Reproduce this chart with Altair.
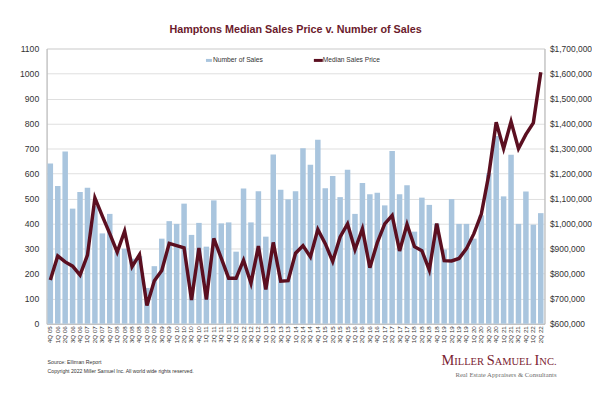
import altair as alt
import pandas as pd

quarters = [
    "4Q 05",
    "1Q 06", "2Q 06", "3Q 06", "4Q 06",
    "1Q 07", "2Q 07", "3Q 07", "4Q 07",
    "1Q 08", "2Q 08", "3Q 08", "4Q 08",
    "1Q 09", "2Q 09", "3Q 09", "4Q 09",
    "1Q 10", "2Q 10", "3Q 10", "4Q 10",
    "1Q 11", "2Q 11", "3Q 11", "4Q 11",
    "1Q 12", "2Q 12", "3Q 12", "4Q 12",
    "1Q 13", "2Q 13", "3Q 13", "4Q 13",
    "1Q 14", "2Q 14", "3Q 14", "4Q 14",
    "1Q 15", "2Q 15", "3Q 15", "4Q 15",
    "1Q 16", "2Q 16", "3Q 16", "4Q 16",
    "1Q 17", "2Q 17", "3Q 17", "4Q 17",
    "1Q 18", "2Q 18", "3Q 18", "4Q 18",
    "1Q 19", "2Q 19", "3Q 19", "4Q 19",
    "1Q 20", "2Q 20", "3Q 20", "4Q 20",
    "1Q 21", "2Q 21", "3Q 21", "4Q 21",
    "1Q 22", "2Q 22",
]

sales = [640, 550, 688, 460, 527, 543, 470, 361, 439, 290,
         300, 260, 270, 143, 230, 340, 410, 399, 480, 355,
         403, 308, 493, 401, 405, 288, 540, 405, 530, 348,
         676, 535, 497, 530, 701, 635, 735, 541, 590, 506,
         615, 439, 562, 518, 524, 473, 690, 518, 553, 368,
         504, 475, 400, 297, 498, 399, 399, 340, 433, 600,
         750, 509, 675, 399, 529, 396, 442]

price_k = [775, 871, 847, 830, 794, 874, 1103, 1030, 960, 886,
           970, 828, 876, 673, 772, 813, 921, 912, 903, 695,
           903, 697, 941, 862, 782, 782, 854, 762, 910, 737,
           925, 770, 772, 882, 912, 867, 977, 920, 849, 947,
           999, 896, 979, 824, 924, 999, 1033, 891, 997, 908,
           892, 814, 1000, 852, 851, 861, 900, 960, 1038, 1195,
           1405, 1300, 1408, 1300, 1357, 1403, 1605]

left_ticks = list(range(0, 1101, 100))
right_ticks = list(range(600000, 1700001, 100000))

title_text = "Hamptons Median Sales Price v. Number of Sales"
legend_labels = ["Number of Sales", "Median Sales Price"]
source_text = "Source: Elliman Report"
copyright_text = "Copyright 2022 Miller Samuel Inc.  All world wide rights reserved."
tagline_text = "Real Estate Appraisers & Consultants"

df = pd.DataFrame({
    "quarter": quarters,
    "sales": sales,
    "price": [p * 1000 for p in price_k],
})

BAR = "#a9c5de"
LINE = "#5b0f20"
TITLE = "#6b1b2c"
AXIS_TXT = "#333333"
SANS = "Liberation Sans"
SERIF = "Liberation Serif"
W, H = 503, 278

x_enc = alt.X(
    "quarter:N", sort=quarters, title=None,
    scale=alt.Scale(paddingInner=0.26, paddingOuter=0.13),
    axis=alt.Axis(labelAngle=270, labelFontSize=6.3, labelFont=SANS,
                  labelColor=AXIS_TXT, labelPadding=2, ticks=False,
                  domainColor="#b8b8b8", labelOverlap=False, labelBound=False),
)

bars = alt.Chart(df).mark_bar(color=BAR).encode(
    x=x_enc,
    y=alt.Y("sales:Q", title=None,
            scale=alt.Scale(domain=[0, 1100], nice=False),
            axis=alt.Axis(values=left_ticks, format="d", grid=True, gridColor="#d6d6d6",
                          gridWidth=0.8, ticks=False, domainColor="#b8b8b8",
                          labelFontSize=8.7, labelFont=SANS, labelColor=AXIS_TXT,
                          labelPadding=8)),
)

line = alt.Chart(df).mark_line(color=LINE, strokeWidth=3.5, strokeJoin="miter").encode(
    x=x_enc,
    y=alt.Y("price:Q", title=None,
            scale=alt.Scale(domain=[600000, 1700000], nice=False),
            axis=alt.Axis(orient="right", values=right_ticks, format="$,.0f",
                          grid=False, ticks=False, domainColor="#b8b8b8",
                          labelFontSize=8.5, labelFont=SANS, labelColor=AXIS_TXT,
                          labelPadding=5)),
)


def text_layer(txt, px, py, size, color="#333333", font=SANS, weight="normal",
               align="left", baseline="alphabetic"):
    return alt.Chart(pd.DataFrame({"t": [txt]})).mark_text(
        align=align, baseline=baseline, fontSize=size, font=font,
        fontWeight=weight, color=color,
    ).encode(x=alt.value(px), y=alt.value(py), text="t:N")


one = pd.DataFrame({"k": [0]})
legend_swatch_bar = alt.Chart(one).mark_rect(color=BAR).encode(
    x=alt.value(161), x2=alt.value(167), y=alt.value(10.5), y2=alt.value(13.5))
legend_swatch_line = alt.Chart(one).mark_rule(color=LINE, strokeWidth=3).encode(
    x=alt.value(270), x2=alt.value(279), y=alt.value(12))

decos = [
    text_layer(title_text, W / 2, -16, 10.9, color=TITLE, weight="bold", align="center"),
    legend_swatch_bar,
    text_layer(legend_labels[0], 168, 12, 6.8, baseline="middle"),
    legend_swatch_line,
    text_layer(legend_labels[1], 279, 12, 6.7, baseline="middle"),
    text_layer(source_text, 1, 319, 5.3),
    text_layer(copyright_text, 1, 328, 5.2),
    text_layer(tagline_text, 413, 332, 6.8, color="#6e6e6e", font=SERIF),
]

# Logo in small caps: big initials + smaller capitals (Times metrics)
times_w = {"M": .889, "I": .333, "L": .611, "E": .611, "R": .667, "S": .556,
           "A": .722, "U": .722, "N": .722, "C": .667, ".": .25, " ": .25}
BIG, SMALL = 14.5, 10.6
logo_parts = [("M", BIG), ("ILLER", SMALL), (" ", SMALL), ("S", BIG),
              ("AMUEL", SMALL), (" ", SMALL), ("I", BIG), ("NC.", SMALL)]
cx = 399
for txt, size in logo_parts:
    if txt.strip():
        decos.append(text_layer(txt, cx, 320, size, color="#7a2231", font=SERIF))
    cx += sum(times_w[c] for c in txt) * size

chart = alt.layer(bars, line, *decos).resolve_scale(y="independent").properties(
    width=W, height=H,
    autosize=alt.AutoSizeParams(type="none"),
    padding={"left": 39, "top": 39, "right": 48, "bottom": 63},
).configure_view(stroke=None).configure(background="white")

chart.save("out.html", embed_options={"renderer": "svg", "actions": False})
